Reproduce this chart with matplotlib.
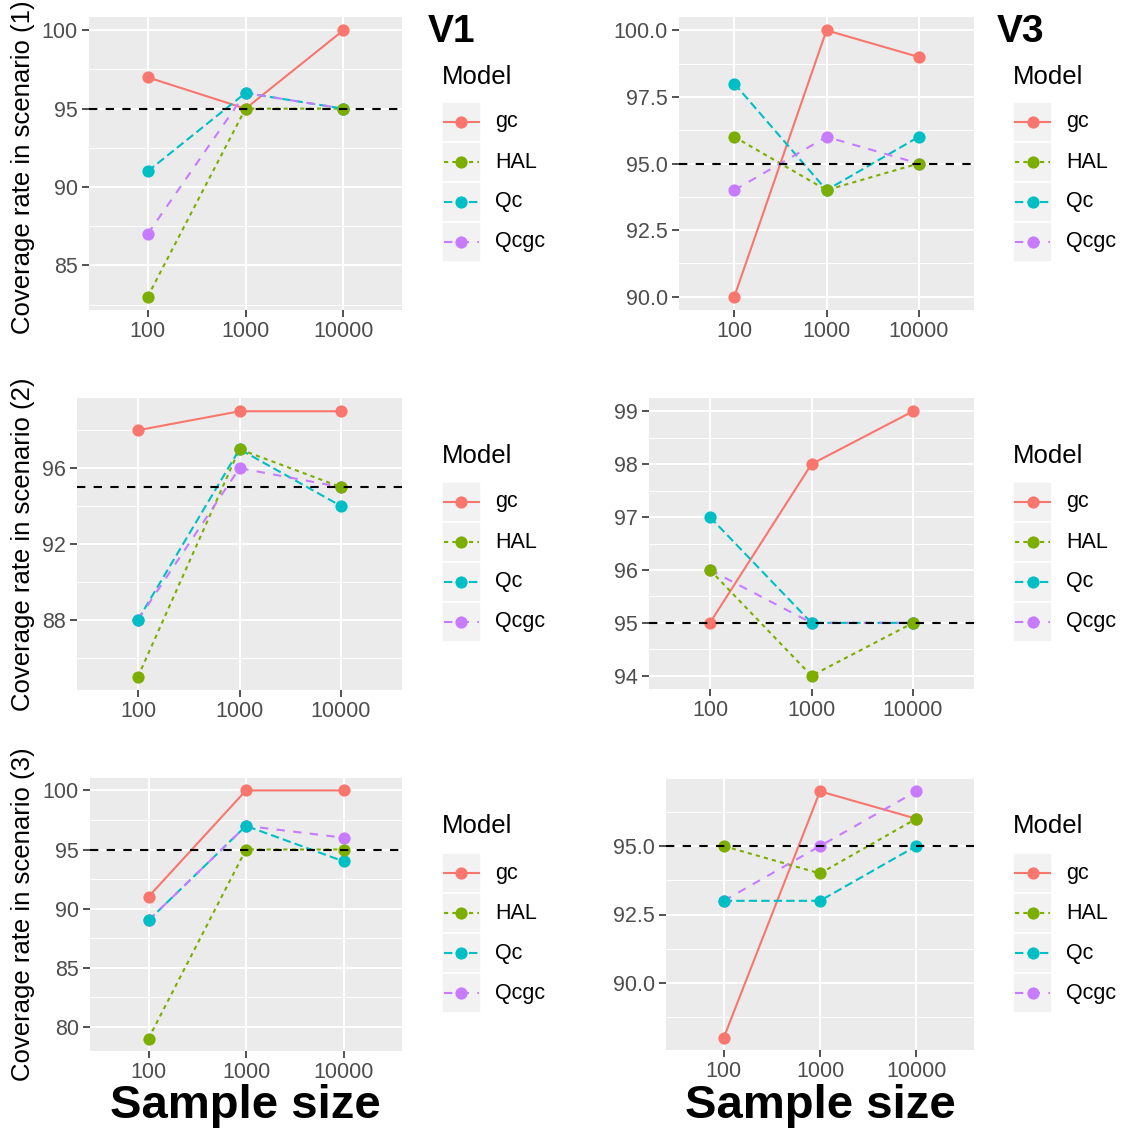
import numpy as np
import matplotlib
matplotlib.use("Agg")
import matplotlib.pyplot as plt
from matplotlib.patches import Rectangle
from matplotlib.lines import Line2D

# ---------------- data ----------------
sample_sizes = ["100", "1000", "10000"]
models = ["gc", "HAL", "Qc", "Qcgc"]

# scenario 1
s1_v1_gc = [97, 95, 100]
s1_v1_hal = [83, 95, 95]
s1_v1_qc = [91, 96, 95]
s1_v1_qcgc = [87, 96, 95]
s1_v3_gc = [90, 100, 99]
s1_v3_hal = [96, 94, 95]
s1_v3_qc = [98, 94, 96]
s1_v3_qcgc = [94, 96, 95]
# scenario 2
s2_v1_gc = [98, 99, 99]
s2_v1_hal = [85, 97, 95]
s2_v1_qc = [88, 97, 94]
s2_v1_qcgc = [88, 96, 95]
s2_v3_gc = [95, 98, 99]
s2_v3_hal = [96, 94, 95]
s2_v3_qc = [97, 95, 95]
s2_v3_qcgc = [96, 95, 95]
# scenario 3
s3_v1_gc = [91, 100, 100]
s3_v1_hal = [79, 95, 95]
s3_v1_qc = [89, 97, 94]
s3_v1_qcgc = [89, 97, 96]
s3_v3_gc = [88, 97, 96]
s3_v3_hal = [95, 94, 96]
s3_v3_qc = [93, 93, 95]
s3_v3_qcgc = [93, 95, 97]

reference_line = 95

yticks_s1_v1 = [85, 90, 95, 100]
yticklabels_s1_v1 = ["85", "90", "95", "100"]
yticks_s1_v3 = [90.0, 92.5, 95.0, 97.5, 100.0]
yticklabels_s1_v3 = ["90.0", "92.5", "95.0", "97.5", "100.0"]
yticks_s2_v1 = [88, 92, 96]
yticklabels_s2_v1 = ["88", "92", "96"]
yticks_s2_v3 = [94, 95, 96, 97, 98, 99]
yticklabels_s2_v3 = ["94", "95", "96", "97", "98", "99"]
yticks_s3_v1 = [80, 85, 90, 95, 100]
yticklabels_s3_v1 = ["80", "85", "90", "95", "100"]
yticks_s3_v3 = [90.0, 92.5, 95.0]
yticklabels_s3_v3 = ["90.0", "92.5", "95.0"]

ylabels = ["Coverage rate in scenario (1)", "Coverage rate in scenario (2)",
           "Coverage rate in scenario (3)"]
column_titles = ["V1", "V3"]
xlabel = "Sample size"
legend_title = "Model"

# ---------------- style ----------------
colors = {"gc": "#F8766D", "HAL": "#7CAE00", "Qc": "#00BFC4", "Qcgc": "#C77CFF"}
dashes = {"gc": None, "HAL": (2, 2), "Qc": (4, 2), "Qcgc": (4, 4)}
FONT = "Liberation Sans"
plt.rcParams["font.family"] = [FONT, "DejaVu Sans"]

W, H = 1121, 1137
fig = plt.figure(figsize=(W / 100, H / 100), dpi=100)


def px_axes(l, t, r, b):
    return fig.add_axes([l / W, 1 - b / H, (r - l) / W, (b - t) / H])


panels = [
    ((89, 17, 402, 310), {"gc": s1_v1_gc, "HAL": s1_v1_hal, "Qc": s1_v1_qc, "Qcgc": s1_v1_qcgc},
     yticks_s1_v1, yticklabels_s1_v1),
    ((679, 17, 974, 310), {"gc": s1_v3_gc, "HAL": s1_v3_hal, "Qc": s1_v3_qc, "Qcgc": s1_v3_qcgc},
     yticks_s1_v3, yticklabels_s1_v3),
    ((77, 398, 402, 690), {"gc": s2_v1_gc, "HAL": s2_v1_hal, "Qc": s2_v1_qc, "Qcgc": s2_v1_qcgc},
     yticks_s2_v1, yticklabels_s2_v1),
    ((649, 398, 974, 689), {"gc": s2_v3_gc, "HAL": s2_v3_hal, "Qc": s2_v3_qc, "Qcgc": s2_v3_qcgc},
     yticks_s2_v3, yticklabels_s2_v3),
    ((90, 778, 402, 1051), {"gc": s3_v1_gc, "HAL": s3_v1_hal, "Qc": s3_v1_qc, "Qcgc": s3_v1_qcgc},
     yticks_s3_v1, yticklabels_s3_v1),
    ((666, 779, 974, 1050), {"gc": s3_v3_gc, "HAL": s3_v3_hal, "Qc": s3_v3_qc, "Qcgc": s3_v3_qcgc},
     yticks_s3_v3, yticklabels_s3_v3),
]

line_order = ["gc", "HAL", "Qc", "Qcgc"]
point_order = ["gc", "Qcgc", "Qc", "HAL"]
LW = 1.5
MS = 8.8
TICK_FS = 15.5
TITLE_FS = 18.5

ylabel_centers = {0: 167, 1: 544, 2: 914}

for i, (box, series, yt, ytl) in enumerate(panels):
    ax = px_axes(*box)
    ax.set_facecolor("#EBEBEB")
    for s in ax.spines.values():
        s.set_visible(False)
    x = np.arange(len(sample_sizes))
    allv = np.concatenate([np.array(v, float) for v in series.values()] + [np.array([reference_line], float)])
    lo, hi = allv.min(), allv.max()
    pad = 0.05 * (hi - lo)
    ax.set_ylim(lo - pad, hi + pad)
    ax.set_xlim(-0.6, len(sample_sizes) - 1 + 0.6)
    ax.set_xticks(x)
    ax.set_xticklabels(sample_sizes)
    ax.set_yticks(yt)
    ax.set_yticklabels(ytl)
    step = yt[1] - yt[0]
    minors = np.arange(yt[0] - step / 2, yt[-1] + step, step)
    minors = [m for m in minors if lo - pad <= m <= hi + pad]
    ax.set_yticks(minors, minor=True)
    ax.grid(True, which="major", color="white", linewidth=1.4, zorder=0)
    ax.grid(True, which="minor", axis="y", color="white", linewidth=0.7, zorder=0)
    ax.set_axisbelow(True)
    ax.tick_params(which="minor", length=0)
    ax.tick_params(which="major", length=5, width=1.2, color="#333333", pad=3,
                   labelsize=TICK_FS, labelcolor="#4D4D4D")
    for m in line_order:
        ln, = ax.plot(x, series[m], color=colors[m], lw=LW, zorder=3)
        if dashes[m] is not None:
            ln.set_dashes(dashes[m])
    for m in point_order:
        ax.plot(x, series[m], linestyle="none", marker="o", ms=MS, color=colors[m],
                markeredgewidth=0, zorder=4)
    ax.axhline(reference_line, color="black", lw=1.5, dashes=(4, 4), zorder=5)

    row = i // 2
    if i % 2 == 0:
        cy = ylabel_centers[row]
        fig.text(23 / W, 1 - cy / H, ylabels[row], rotation=90, ha="center", va="center",
                 fontsize=TITLE_FS, color="black")

    # legend
    left_leg = 442 if i % 2 == 0 else 1013
    title_y = {0: 77, 1: 456, 2: 826}[row]
    key_top = {0: 102, 1: 482, 2: 853}[row]
    lax = px_axes(left_leg - 5, title_y - 25, left_leg + 110, key_top + 170)
    lax.set_xlim(left_leg - 5, left_leg + 110)
    lax.set_ylim(key_top + 170, title_y - 25)
    lax.axis("off")
    lax.text(left_leg, title_y, legend_title, fontsize=TITLE_FS, ha="left", va="center", color="black")
    kw, kh = 39, 40
    for k, m in enumerate(models):
        ty = key_top + k * kh
        lax.add_patch(Rectangle((left_leg, ty), kw, kh, facecolor="#F2F2F2", edgecolor="white", lw=1.2))
        cyk = ty + kh / 2
        ln = Line2D([left_leg + 2, left_leg + kw - 2], [cyk, cyk], color=colors[m], lw=LW)
        if dashes[m] is not None:
            ln.set_dashes(dashes[m])
        lax.add_line(ln)
        lax.plot([left_leg + kw / 2], [cyk], marker="o", ms=MS, color=colors[m], markeredgewidth=0)
        lax.text(left_leg + kw + 14, cyk, m, fontsize=TICK_FS, ha="left", va="center", color="black")

# column titles
fig.text(428 / W, 1 - 42 / H, column_titles[0], fontsize=28, fontweight="bold", ha="left", va="baseline")
fig.text(997 / W, 1 - 42 / H, column_titles[1], fontsize=28, fontweight="bold", ha="left", va="baseline")
# x labels
fig.text(245 / W, 1 - 1118 / H, xlabel, fontsize=34, fontweight="bold", ha="center", va="baseline")
fig.text(820 / W, 1 - 1118 / H, xlabel, fontsize=34, fontweight="bold", ha="center", va="baseline")

fig.savefig("out.png", dpi=100, facecolor="white")
